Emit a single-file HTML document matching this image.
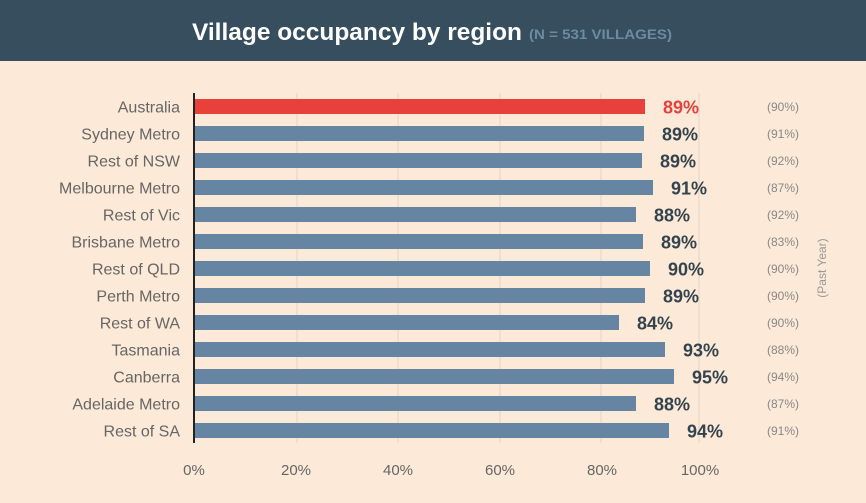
<!DOCTYPE html><html><head><meta charset="utf-8"><style>
body{margin:0;width:866px;height:498px;background:#fce9d7;overflow:hidden;font-family:"Liberation Sans",sans-serif}
</style></head><body>
<svg width="866" height="498" xmlns="http://www.w3.org/2000/svg" font-family="Liberation Sans, sans-serif">
<rect width="866" height="498" fill="#fce9d7"/>
<rect width="866" height="61" fill="#364e5d"/>
<text x="192" y="40" font-size="24" font-weight="bold" fill="#fff" textLength="330" lengthAdjust="spacingAndGlyphs">Village occupancy by region</text>
<text x="529" y="39" font-size="14" font-weight="bold" fill="#6c8aa3" textLength="143" lengthAdjust="spacingAndGlyphs">(N = 531 VILLAGES)</text>
<g stroke="#e9dccd" stroke-width="1.5">
<line x1="297" y1="93" x2="297" y2="443"/><line x1="398" y1="93" x2="398" y2="443"/><line x1="500" y1="93" x2="500" y2="443"/><line x1="601" y1="93" x2="601" y2="443"/><line x1="699" y1="93" x2="699" y2="443"/>
</g>
<g fill="#6585a3">
<rect x="195" y="99" width="450" height="15" fill="#e8413c"/>
<rect x="195" y="126" width="449" height="15"/>
<rect x="195" y="153" width="447" height="15"/>
<rect x="195" y="180" width="458" height="15"/>
<rect x="195" y="207" width="441" height="15"/>
<rect x="195" y="234" width="448" height="15"/>
<rect x="195" y="261" width="455" height="15"/>
<rect x="195" y="288" width="450" height="15"/>
<rect x="195" y="315" width="424" height="15"/>
<rect x="195" y="342" width="470" height="15"/>
<rect x="195" y="369" width="479" height="15"/>
<rect x="195" y="396" width="441" height="15"/>
<rect x="195" y="423" width="474" height="15"/>
</g>
<g font-size="16" fill="#666" text-anchor="end">
<text x="180" y="112.5">Australia</text>
<text x="180" y="139.5">Sydney Metro</text>
<text x="180" y="166.5">Rest of NSW</text>
<text x="180" y="193.5">Melbourne Metro</text>
<text x="180" y="220.5">Rest of Vic</text>
<text x="180" y="247.5">Brisbane Metro</text>
<text x="180" y="274.5">Rest of QLD</text>
<text x="180" y="301.5">Perth Metro</text>
<text x="180" y="328.5">Rest of WA</text>
<text x="180" y="355.5">Tasmania</text>
<text x="180" y="382.5">Canberra</text>
<text x="180" y="409.5">Adelaide Metro</text>
<text x="180" y="436.5">Rest of SA</text>
</g>
<g font-size="18" font-weight="bold" fill="#34444f">
<text x="663" y="113.5" fill="#e8413c">89%</text>
<text x="662" y="140.5">89%</text>
<text x="660" y="167.5">89%</text>
<text x="671" y="194.5">91%</text>
<text x="654" y="221.5">88%</text>
<text x="661" y="248.5">89%</text>
<text x="668" y="275.5">90%</text>
<text x="663" y="302.5">89%</text>
<text x="637" y="329.5">84%</text>
<text x="683" y="356.5">93%</text>
<text x="692" y="383.5">95%</text>
<text x="654" y="410.5">88%</text>
<text x="687" y="437.5">94%</text>
</g>
<g font-size="12" fill="#888">
<text x="767" y="111">(90%)</text>
<text x="767" y="138">(91%)</text>
<text x="767" y="165">(92%)</text>
<text x="767" y="192">(87%)</text>
<text x="767" y="219">(92%)</text>
<text x="767" y="246">(83%)</text>
<text x="767" y="273">(90%)</text>
<text x="767" y="300">(90%)</text>
<text x="767" y="327">(90%)</text>
<text x="767" y="354">(88%)</text>
<text x="767" y="381">(94%)</text>
<text x="767" y="408">(87%)</text>
<text x="767" y="435">(91%)</text>
</g>
<line x1="194" y1="93" x2="194" y2="443" stroke="#222" stroke-width="2"/>
<g font-size="15" fill="#666" text-anchor="middle">
<text x="194" y="475">0%</text><text x="296" y="475">20%</text><text x="398" y="475">40%</text><text x="500" y="475">60%</text><text x="602" y="475">80%</text><text x="700" y="475">100%</text>
</g>
<text transform="translate(826,268) rotate(-90)" font-size="12" fill="#999" text-anchor="middle">(Past Year)</text>
</svg></body></html>
